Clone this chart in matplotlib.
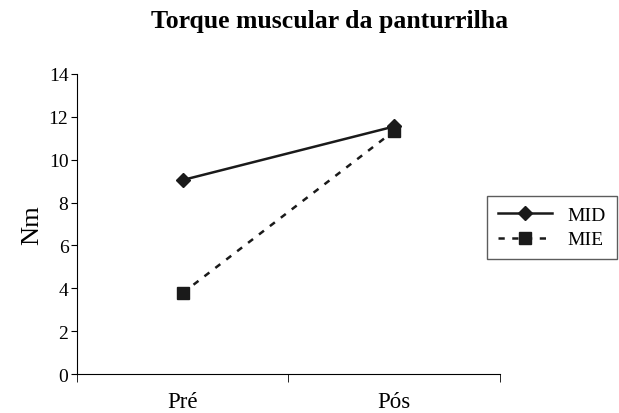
import numpy as np
import matplotlib.pyplot as plt

plt.rcParams['font.family'] = ['Liberation Serif', 'DejaVu Serif']

fases = ['Pré', 'Pós']
mid = [9.05, 11.55]
mie = [3.78, 11.35]

fig = plt.figure(figsize=(6.19, 4.14), dpi=100)
ax = fig.add_axes([0.124, 0.094, 0.684, 0.725])

x = np.arange(len(fases))
ax.plot(x, mid, color='#1a1a1a', lw=1.8, marker='D', ms=7, label='MID')
ax.plot(x, mie, color='#1a1a1a', lw=1.8, ls=(0, (2.5, 3)), marker='s', ms=9, label='MIE')

ax.set_xlim(-0.5, 1.5)
ax.set_ylim(0, 14)
ax.set_yticks(range(0, 15, 2))
ax.set_xticks(x)
ax.set_xticklabels(fases, fontsize=16.5)
ax.set_xticks([-0.5, 0.5, 1.5], minor=True)
ax.tick_params(axis='x', which='major', length=0, pad=12)
ax.tick_params(axis='x', which='minor', length=6, direction='out')
ax.tick_params(axis='y', labelsize=14, length=4, direction='out', pad=2)
for s in ['top', 'right']:
    ax.spines[s].set_visible(False)
ax.set_ylabel('Nm', fontsize=19, labelpad=4)

fig.suptitle('Torque muscular da panturrilha', fontsize=18.5, fontweight='bold',
             x=0.532, y=0.975)

leg = fig.legend(loc='upper left', bbox_to_anchor=(0.787, 0.525), fontsize=14,
                 frameon=True, fancybox=False, edgecolor='#333333',
                 borderaxespad=0, handlelength=2.8, borderpad=0.55,
                 labelspacing=0.35, handletextpad=0.8)
leg.get_frame().set_linewidth(1.0)

fig.savefig('out.png', dpi=100)
